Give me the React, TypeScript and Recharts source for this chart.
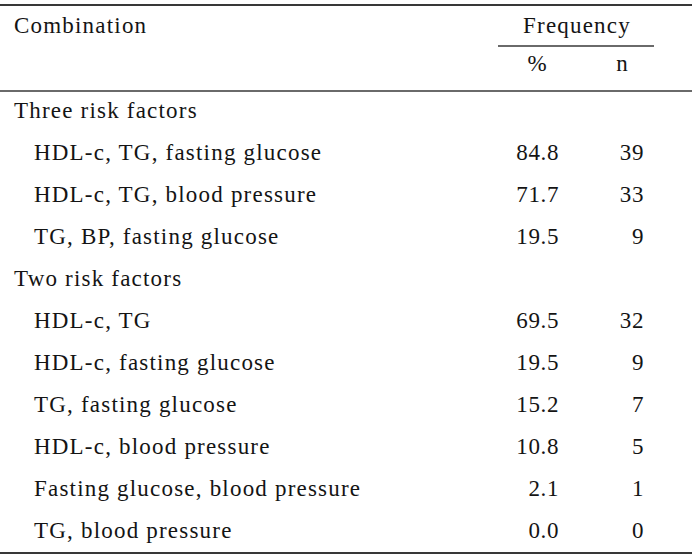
import { ScatterChart, Scatter, XAxis, YAxis, Customized } from "recharts";

const combinations = [
  "Three risk factors",
  "HDL-c, TG, fasting glucose",
  "HDL-c, TG, blood pressure",
  "TG, BP, fasting glucose",
  "Two risk factors",
  "HDL-c, TG",
  "HDL-c, fasting glucose",
  "TG, fasting glucose",
  "HDL-c, blood pressure",
  "Fasting glucose, blood pressure",
  "TG, blood pressure",
];
const sections = ["Three risk factors", "Two risk factors"];
const percents = [null, 84.8, 71.7, 19.5, null, 69.5, 19.5, 15.2, 10.8, 2.1, 0.0];
const counts = [null, 39, 33, 9, null, 32, 9, 7, 5, 1, 0];
const columns = ["%", "n"];

const FONT = "Liberation Serif";
const TEXT = "#141414";
const RULE = "#383838";
const FS = 23;
const LS = 1.2;

const pctData = combinations.map((row, i) => ({
  col: columns[0],
  row,
  text: percents[i] == null ? "" : percents[i]!.toFixed(1),
}));
const nData = combinations.map((row, i) => ({
  col: columns[1],
  row,
  text: counts[i] == null ? "" : String(counts[i]),
}));

// eslint-disable-next-line @typescript-eslint/no-explicit-any
function CellText({ cx, cy, payload }: any) {
  if (!payload?.text) return null;
  return (
    <text
      x={cx + 22}
      y={cy + 7}
      textAnchor="end"
      fontFamily={FONT}
      fontSize={FS}
      letterSpacing={0.6}
      fill={TEXT}
    >
      {payload.text}
    </text>
  );
}

// eslint-disable-next-line @typescript-eslint/no-explicit-any
function RowTick({ y, payload }: any) {
  const indent = sections.includes(payload.value) ? 14 : 34;
  return (
    <text x={indent} y={y + 7} fontFamily={FONT} fontSize={FS} letterSpacing={LS} fill={TEXT}>
      {payload.value}
    </text>
  );
}

// eslint-disable-next-line @typescript-eslint/no-explicit-any
function ColTick({ x, payload }: any) {
  return (
    <text x={x} y={71} textAnchor="middle" fontFamily={FONT} fontSize={FS} fill={TEXT}>
      {payload.value}
    </text>
  );
}

function Header() {
  return (
    <g>
      <line x1={0} x2={692} y1={5} y2={5} stroke={RULE} strokeWidth={2} />
      <text x={14} y={33} fontFamily={FONT} fontSize={FS} letterSpacing={LS} fill={TEXT}>
        Combination
      </text>
      <text x={577} y={33} textAnchor="middle" fontFamily={FONT} fontSize={FS} letterSpacing={LS} fill={TEXT}>
        Frequency
      </text>
      <line x1={498} x2={654} y1={46} y2={46} stroke={RULE} strokeWidth={1.5} />
      <line x1={0} x2={692} y1={91} y2={91} stroke={RULE} strokeWidth={1.5} />
      <line x1={0} x2={692} y1={553} y2={553} stroke={RULE} strokeWidth={2} />
    </g>
  );
}

export default function App() {
  return (
    <div style={{ width: 700, height: 555, background: "#fff", fontFamily: FONT }}>
      <style>{"body{margin:0}"}</style>
      <ScatterChart width={700} height={555} margin={{ top: 60, right: 35.5, bottom: 3, left: 0 }}>
        <XAxis
          xAxisId={0}
          dataKey="col"
          type="category"
          orientation="top"
          height={30}
          allowDuplicatedCategory={false}
          axisLine={false}
          tickLine={false}
          tick={<ColTick />}
        />
        <YAxis
          yAxisId={0}
          dataKey="row"
          type="category"
          width={494.5}
          reversed
          allowDuplicatedCategory={false}
          axisLine={false}
          tickLine={false}
          interval={0}
          tick={<RowTick />}
        />
        <Scatter data={pctData} shape={<CellText />} isAnimationActive={false} />
        <Scatter data={nData} shape={<CellText />} isAnimationActive={false} />
        <Customized component={<Header />} />
      </ScatterChart>
    </div>
  );
}
